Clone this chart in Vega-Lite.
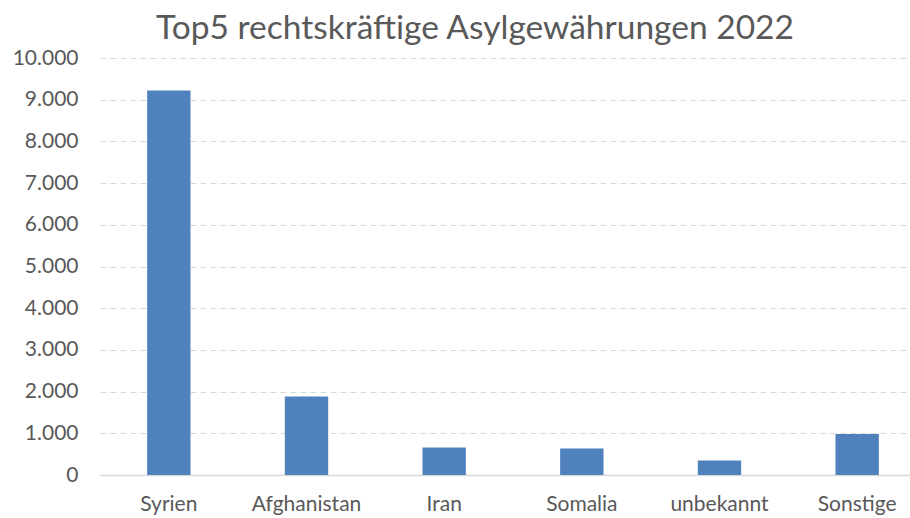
{
  "$schema": "https://vega.github.io/schema/vega-lite/v6.json",
  "width": 810,
  "height": 417,
  "autosize": {"type": "none"},
  "padding": {"left": 100, "top": 58, "right": 0, "bottom": 43},
  "background": "white",
  "title": {
    "text": "Top5 rechtskräftige Asylgewährungen 2022",
    "font": "Lato",
    "fontSize": 33.5,
    "fontWeight": "normal",
    "color": "#595959",
    "anchor": "middle",
    "dx": -30,
    "offset": 1
  },
  "data": {
    "values": [
      {"land": "Syrien", "anzahl": 9220},
      {"land": "Afghanistan", "anzahl": 1885},
      {"land": "Iran", "anzahl": 662},
      {"land": "Somalia", "anzahl": 638},
      {"land": "unbekannt", "anzahl": 345},
      {"land": "Sonstige", "anzahl": 985}
    ]
  },
  "mark": {"type": "bar", "color": "#4f81bd"},
  "encoding": {
    "x": {
      "field": "land",
      "type": "nominal",
      "sort": null,
      "scale": {"paddingInner": 0.685, "paddingOuter": 0.3425, "range": [0, 826]},
      "axis": {
        "title": null,
        "labelAngle": 0,
        "labelFont": "Lato",
        "labelFontSize": 21,
        "labelColor": "#595959",
        "labelPadding": 18,
        "ticks": false,
        "domainColor": "#d9d9d9",
        "domainWidth": 1.5
      }
    },
    "y": {
      "field": "anzahl",
      "type": "quantitative",
      "scale": {"domain": [0, 10000], "nice": false},
      "axis": {
        "title": null,
        "values": [0, 1000, 2000, 3000, 4000, 5000, 6000, 7000, 8000, 9000, 10000],
        "labelExpr": "replace(format(datum.value, ',d'), ',', '.')",
        "labelFont": "Lato",
        "labelFontSize": 21,
        "labelColor": "#595959",
        "labelPadding": 22,
        "ticks": false,
        "domain": false,
        "gridColor": "#d9d9d9",
        "gridDash": [6, 4],
        "gridWidth": 1.2
      }
    }
  },
  "config": {"view": {"stroke": null}}
}
